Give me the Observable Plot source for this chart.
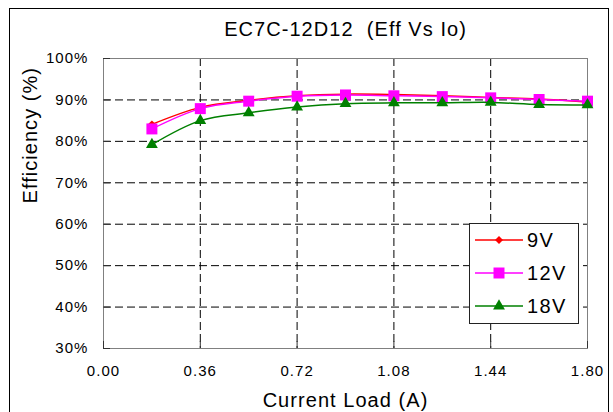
<!DOCTYPE html>
<html>
<head>
<meta charset="utf-8">
<script src="https://cdn.jsdelivr.net/npm/d3@7"></script>
<script src="https://cdn.jsdelivr.net/npm/@observablehq/plot@0.6"></script>
<style>
  html, body { margin: 0; padding: 0; background: #fff; }
  #wrap { position: relative; width: 613px; height: 412px; overflow: hidden; font-family: "Liberation Sans", Arial, sans-serif; }
  #outer { position: absolute; left: 9px; top: 8px; width: 600px; height: 440px; border: 1px solid #000; box-sizing: border-box; pointer-events: none; }
  #legend { position: absolute; left: 469px; top: 223px; width: 110px; height: 101px; border: 1px solid #222; background: #fff; box-sizing: border-box; }
</style>
</head>
<body>
<div id="wrap"><div id="outer"></div></div>
<script>
const titleText = "EC7C-12D12  (Eff Vs Io)";
const xLabel = "Current Load (A)";
const yLabel = "Efficiency (%)";
const xTicks = [0, 0.36, 0.72, 1.08, 1.44, 1.80];
const yTicks = [30, 40, 50, 60, 70, 80, 90, 100];
const load = [0.18, 0.36, 0.54, 0.72, 0.90, 1.08, 1.26, 1.44, 1.62, 1.80];
const eff9V  = [84.1, 88.2, 89.9, 91.0, 91.4, 91.3, 91.0, 90.6, 90.2, 89.5];
const eff12V = [83.0, 87.9, 89.7, 90.9, 91.2, 91.0, 90.8, 90.5, 90.1, 89.7];
const eff18V = [79.2, 85.0, 86.9, 88.3, 89.1, 89.3, 89.3, 89.4, 88.9, 88.8];
const seriesNames = ["9V", "12V", "18V"];
const seriesColors = ["#ff0000", "#ff00ff", "#008000"];
const seriesSymbols = ["diamond2", "square", "triangle"];
const seriesR = [3.6, 6.2, 4.4];

const values = [eff9V, eff12V, eff18V];
const rows = [];
seriesNames.forEach((s, i) => load.forEach((x, j) => rows.push({series: s, x, y: values[i][j]})));

const marks = [
  Plot.gridX(xTicks, {stroke: "#000", strokeOpacity: 1, strokeDasharray: "8,4"}),
  Plot.gridY(yTicks, {stroke: "#000", strokeOpacity: 1, strokeDasharray: "8,4"}),
  Plot.frame({stroke: "#808080", strokeWidth: 1}),
  Plot.axisX(xTicks, {tickSize: -7, tickFormat: () => "", label: null, stroke: "#333"}),
  Plot.axisY(yTicks, {tickSize: -7, tickFormat: () => "", label: null, stroke: "#333"}),
  Plot.axisX(xTicks, {tickSize: 0, tickPadding: 17, tickFormat: d3.format(".2f"), fontSize: 15, label: null}),
  Plot.axisY(yTicks, {tickSize: 0, tickPadding: 15, tickFormat: d => d + "%", fontSize: 15, label: null}),
  Plot.text([titleText], {frameAnchor: "top", lineAnchor: "middle", dy: -29, fontSize: 20, text: d => d}),
  Plot.text([xLabel], {frameAnchor: "bottom", lineAnchor: "middle", dy: 52, fontSize: 20, text: d => d}),
  Plot.text([yLabel], {frameAnchor: "left", lineAnchor: "middle", dx: -73, rotate: -90, fontSize: 20, text: d => d})
];
seriesNames.forEach((s, i) => {
  const data = rows.filter(r => r.series === s);
  marks.push(Plot.line(data, {x: "x", y: "y", stroke: seriesColors[i], strokeWidth: 1.5, curve: "catmull-rom"}));
  marks.push(Plot.dot(data, {x: "x", y: "y", symbol: seriesSymbols[i], fill: seriesColors[i], stroke: "none", r: seriesR[i]}));
});

const chart = Plot.plot({
  width: 613,
  height: 412,
  marginLeft: 103,
  marginRight: 26,
  marginTop: 58,
  marginBottom: 64,
  x: {domain: [0, 1.8], ticks: xTicks},
  y: {domain: [30, 100], ticks: yTicks},
  style: {fontFamily: "'Liberation Sans', Arial, sans-serif", fontSize: "15px", color: "#000", background: "transparent", letterSpacing: "0.07em"},
  marks
});
const wrap = document.getElementById("wrap");
wrap.insertBefore(chart, wrap.firstChild);

// legend
const legend = d3.select(wrap).append("div").attr("id", "legend");
const lsvg = legend.append("svg").attr("width", 108).attr("height", 99)
  .style("font-family", "'Liberation Sans', Arial, sans-serif");
seriesNames.forEach((s, i) => {
  const cy = 16 + i * 33;
  const g = lsvg.append("g");
  g.append("line").attr("x1", 5).attr("x2", 53).attr("y1", cy).attr("y2", cy)
    .attr("stroke", seriesColors[i]).attr("stroke-width", 1.5);
  const sym = {diamond2: d3.symbolDiamond2, square: d3.symbolSquare, triangle: d3.symbolTriangle}[seriesSymbols[i]];
  g.append("path").attr("d", d3.symbol(sym, Math.PI * seriesR[i] * seriesR[i])())
    .attr("transform", `translate(29,${cy})`).attr("fill", seriesColors[i]);
  g.append("text").attr("x", 57).attr("y", cy).attr("dy", "0.36em")
    .attr("font-size", 20).attr("letter-spacing", "0.07em").text(s);
});
</script>
</body>
</html>
